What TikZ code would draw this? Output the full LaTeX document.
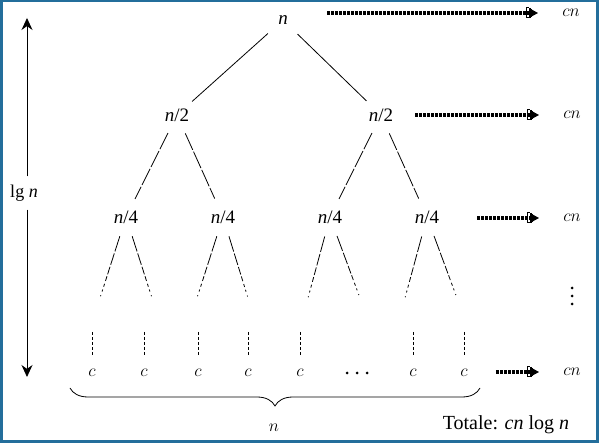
\documentclass[tikz,border=0pt]{standalone}
\usepackage{fontspec}
\setmainfont{Liberation Serif}
\usetikzlibrary{arrows.meta,decorations.pathreplacing}
\definecolor{frameblue}{RGB}{35,110,155}
\begin{document}
\begin{tikzpicture}[x=1pt,y=-1pt,
  lab/.style={circle,inner sep=0pt,minimum size=40pt,font=\fontsize{19}{22}\selectfont},
  edge/.style={line width=0.8pt},
  dedge/.style={line width=0.8pt,dash pattern=on 18pt off 2pt},
  fedge/.style={line width=0.8pt,dash pattern=on 16pt off 2pt on 12pt off 2pt on 8pt off 2pt on 5pt off 3pt on 3pt off 3pt on 2pt off 4pt on 1pt off 4pt on 1pt off 5pt},
  vedge/.style={line width=0.8pt,dash pattern=on 3pt off 2pt},
  cnlab/.style={inner sep=0pt,font=\fontsize{17}{19}\selectfont},
  leaf/.style={inner sep=0pt,minimum height=32pt,font=\fontsize{17}{19}\selectfont},
  sumarrow/.style={line width=3.2pt,dash pattern=on 3pt off 1pt,shorten >=24pt,
    -{Bracket[reversed,width=11pt,length=2pt,line width=1pt]Bar[width=10pt,line width=2pt]Bar[width=8pt,line width=1.5pt]Triangle[width=6pt,length=6pt]}},
  vtip/.style={line width=0.9pt,-{Stealth[length=12pt,width=11pt]}},
]
\useasboundingbox (0,0) rectangle (600,443);
\fill[white] (0,0) rectangle (600,443);
\draw[frameblue,line width=2.5pt] (1.25,1.25) rectangle (597.5,441.5);

% tree nodes
\node[lab] (r) at (283,20) {\textit{n}};
\node[lab] (a) at (177,115) {\textit{n}/2};
\node[lab] (b) at (381,115) {\textit{n}/2};
\node[lab] (a1) at (126,217) {\textit{n}/4};
\node[lab] (a2) at (223,217) {\textit{n}/4};
\node[lab] (b1) at (330,217) {\textit{n}/4};
\node[lab] (b2) at (427,217) {\textit{n}/4};

\draw[edge] (r) -- (a);
\draw[edge] (r) -- (b);
\draw[dedge] (a) -- (a1);
\draw[dedge] (a) -- (a2);
\draw[dedge] (b) -- (b1);
\draw[dedge] (b) -- (b2);

\coordinate (l1) at (100,298);
\coordinate (l2) at (152,298);
\coordinate (l3) at (197,298);
\coordinate (l4) at (248,298);
\coordinate (l5) at (308,298);
\coordinate (l6) at (360,298);
\coordinate (l7) at (405,298);
\coordinate (l8) at (457,298);
\draw[fedge] (a1) -- (l1);
\draw[fedge] (a1) -- (l2);
\draw[fedge] (a2) -- (l3);
\draw[fedge] (a2) -- (l4);
\draw[fedge] (b1) -- (l5);
\draw[fedge] (b1) -- (l6);
\draw[fedge] (b2) -- (l7);
\draw[fedge] (b2) -- (l8);

% leaves
\foreach \i/\x in {1/92,2/144,3/198,4/248,5/300,6/413,7/464}{
  \node[leaf] (c\i) at (\x,373) {$c$};
  \coordinate (t\i) at (\x,332);
  \draw[vedge] (t\i) -- (c\i);
}
\foreach \x in {347,357,367}{\fill (\x,373) circle (1.5);}

% cost per level
\node[cnlab] (k1) at (571,13) {$cn$};
\node[cnlab] (k2) at (572,115) {$cn$};
\node[cnlab] (k3) at (572,218) {$cn$};
\node[cnlab] (k4) at (572,372) {$cn$};
\coordinate (s1) at (327,13);
\coordinate (s2) at (415,115);
\coordinate (s3) at (477,218);
\coordinate (s4) at (496,372);
\draw[sumarrow] (s1) -- (k1);
\draw[sumarrow] (s2) -- (k2);
\draw[sumarrow] (s3) -- (k3);
\draw[sumarrow] (s4) -- (k4);
\foreach \y in {288,296,304}{\fill (572,\y) circle (1.5);}

% height arrow
\node[inner sep=0pt,minimum height=33pt,font=\fontsize{18}{20}\selectfont] (lg) at (24,193) {lg \textit{n}};
\coordinate (ltop) at (27,18);
\coordinate (lbot) at (27,377);
\draw[vtip] (lg.north -| ltop) -- (ltop);
\draw[vtip] (lg.south -| lbot) -- (lbot);

% brace
\coordinate (bl) at (70,388);
\coordinate (br) at (480,388);
\draw[line width=0.8pt,decorate,decoration={brace,mirror,amplitude=18pt}] (bl) -- (br);
\node[font=\fontsize{17}{19}\selectfont] (nb) at (274,428) {$n$};

\node[anchor=base,font=\fontsize{20}{24}\selectfont] (tot) at (506,430) {Totale: \textit{cn} log \textit{n}};
\end{tikzpicture}
\end{document}
